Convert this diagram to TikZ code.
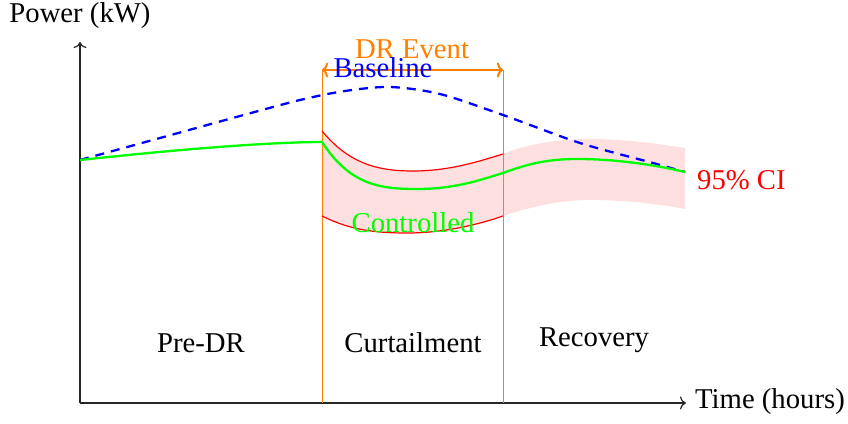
\documentclass[tikz,border=0pt]{standalone}
\usepackage{fontspec}
\setmainfont{Liberation Serif}
\newfontfamily\timesfont{Liberation Serif}
\usetikzlibrary{arrows.meta}
\begin{document}
\begin{tikzpicture}[x=1pt,y=-1pt,
  lbl/.style={font=\timesfont\fontsize{28.7}{34}\selectfont, inner sep=0pt},
  axis/.style={line width=1.2pt, black!85, -{To[length=6pt,width=13pt]}},
  evline/.style={line width=1pt, orange},
  ctrl/.style={line width=2.3pt, green},
  base/.style={line width=2.3pt, blue, dash pattern=on 9pt off 7pt},
  ci/.style={line width=1.2pt, red}]
\useasboundingbox (0,0) rectangle (848,423);
% CI band
\fill[red!12] (322,131) .. controls (350,165) and (380,171) .. (413,171) .. controls (450,171) and (480,161) .. (503,154)
  .. controls (530,143) and (560,139) .. (590,139) .. controls (625,139) and (660,144) .. (685,148)
  -- (685,209) .. controls (660,204) and (625,200) .. (590,200) .. controls (560,200) and (530,207) .. (503,216)
  .. controls (480,224) and (445,233) .. (407,233) .. controls (375,233) and (350,230) .. (322,216) -- cycle;
% axes
\coordinate (O) at (80,403);
\coordinate (ytop) at (80,42);
\coordinate (xend) at (686,403);
\draw[axis] (O) -- (ytop);
\draw[axis] (O) -- (xend);
\node[lbl] (ylab) at (80,16) {Power (kW)};
\node[lbl, anchor=west] (xlab) at (695,402) {Time (hours)};
% event lines
\coordinate (e1b) at (322,403);
\coordinate (e1t) at (322,70);
\coordinate (e2b) at (503,403);
\coordinate (e2t) at (503,70);
\draw[evline] (e1b) -- (e1t);
\draw[evline] (e2b) -- (e2t);
\draw[line width=2pt, orange, {To[length=6pt,width=15pt]}-{To[length=6pt,width=15pt]}] (e1t) -- (e2t);
\node[lbl, text=orange] (dr) at (412,49) {DR Event};
% baseline
\draw[base] plot[smooth] coordinates {(80,160) (160,138) (240,116) (300,100) (345,91) (390,87) (440,94) (503,115) (580,143) (653,163) (685,172)};
\node[lbl, text=blue] (bl) at (383,68) {Baseline};
% CI red lines
\draw[ci] (322,131) .. controls (350,165) and (380,171) .. (413,171) .. controls (450,171) and (480,161) .. (503,154);
\draw[ci] (322,216) .. controls (350,230) and (375,233) .. (407,233) .. controls (445,233) and (480,224) .. (503,216);
% controlled
\draw[ctrl] (80,160) .. controls (200,147) and (280,142) .. (322,142)
  .. controls (350,185) and (380,189) .. (417,189) .. controls (455,189) and (480,180) .. (503,173)
  .. controls (525,165) and (545,159) .. (577,159) .. controls (620,159) and (660,166) .. (685,172);
\node[lbl, text=green] (ct) at (413,223) {Controlled};
\node[lbl, text=red, anchor=west] (ci) at (697,180) {95\% CI};
% phase labels
\node[lbl] (pre) at (201,343) {Pre-DR};
\node[lbl] (cur) at (413,343) {Curtailment};
\node[lbl] (rec) at (594,340) {Recovery};
\end{tikzpicture}
\end{document}
